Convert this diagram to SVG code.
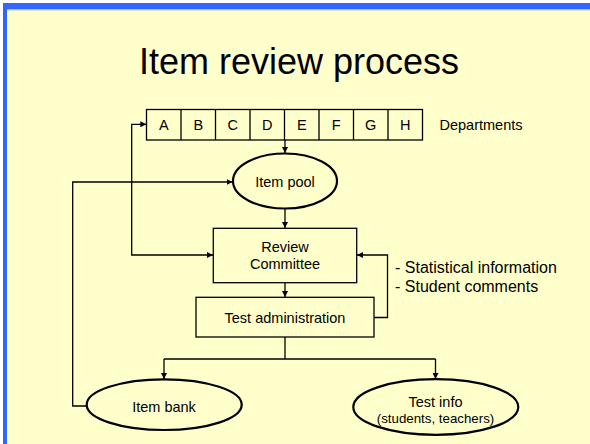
<svg xmlns="http://www.w3.org/2000/svg" width="590" height="444" viewBox="0 0 590 444">
<defs>
<style>
.t{font-family:"Liberation Sans",Arial,sans-serif;fill:#000;text-anchor:middle}
.box{fill:none;stroke:#000;stroke-width:1.3}
.ell{fill:none;stroke:#000;stroke-width:2.2}
.c{fill:none;stroke:#000;stroke-width:1.3}
</style>
<marker id="ah" markerUnits="userSpaceOnUse" markerWidth="7" markerHeight="6" refX="6" refY="3" orient="auto-start-reverse">
<path d="M0,0 L6,3 L0,6 z" fill="#000"/>
</marker>
</defs>
<rect x="0" y="0" width="590" height="444" fill="#fff"/>
<rect x="3" y="3" width="587" height="441" fill="#3366ff"/>
<rect x="7" y="9.5" width="583" height="434.5" fill="#ffffcc"/>
<line x1="7" y1="10" x2="590" y2="10" stroke="#b8c8f0" stroke-width="1"/>
<text class="t" x="299" y="74" font-size="36">Item review process</text>
<g id="departments">
<rect class="box" x="146.5" y="109.5" width="276" height="30.5"/>
<path class="c" d="M181,109.5V140M215.5,109.5V140M250,109.5V140M284.5,109.5V140M319,109.5V140M353.5,109.5V140M388,109.5V140"/>
<g class="t" font-size="14.5">
<text x="163.75" y="130">A</text><text x="198.25" y="130">B</text><text x="232.75" y="130">C</text><text x="267.25" y="130">D</text><text x="301.75" y="130">E</text><text x="336.25" y="130">F</text><text x="370.75" y="130">G</text><text x="405.25" y="130">H</text>
</g>
<text class="t" x="481" y="130" font-size="14.5">Departments</text>
</g>
<g id="item-pool">
<ellipse class="ell" cx="285" cy="181" rx="52" ry="27.5"/>
<text class="t" x="285" y="187" font-size="14.5">Item pool</text>
</g>
<g id="review-committee">
<rect class="box" x="213.3" y="228.3" width="143.4" height="54.4"/>
<text class="t" x="285" y="252" font-size="14.5">Review</text>
<text class="t" x="285" y="269" font-size="14.5">Committee</text>
</g>
<g id="test-administration">
<rect class="box" x="196" y="297.3" width="178" height="39.7"/>
<text class="t" x="285" y="322.5" font-size="14.5">Test administration</text>
</g>
<g id="item-bank">
<ellipse class="ell" cx="164.2" cy="404.7" rx="77.5" ry="25.3"/>
<text class="t" x="164" y="411.5" font-size="14.5">Item bank</text>
</g>
<g id="test-info">
<ellipse class="ell" cx="435.8" cy="407" rx="82.5" ry="27.8"/>
<text class="t" x="435.5" y="407" font-size="14.5">Test info</text>
<text class="t" x="435.5" y="423" font-size="13.3">(students, teachers)</text>
</g>
<g id="feedback-label">
<text x="395" y="273" font-family="&quot;Liberation Sans&quot;,Arial,sans-serif" font-size="16">- Statistical information</text>
<text x="395" y="292" font-family="&quot;Liberation Sans&quot;,Arial,sans-serif" font-size="16">- Student comments</text>
</g>
<g id="connectors">
<path class="c" d="M285,140V153" marker-end="url(#ah)"/>
<path class="c" d="M285,208.5V228" marker-end="url(#ah)"/>
<path class="c" d="M285,282.7V297" marker-end="url(#ah)"/>
<path class="c" d="M146.3,124.3H131.7V255H213" marker-start="url(#ah)" marker-end="url(#ah)"/>
<path class="c" d="M87,406H72.7V182H232.5" marker-end="url(#ah)"/>
<path class="c" d="M374,317.5H387.5V255H357" marker-end="url(#ah)"/>
<path class="c" d="M285,337V359M164,359H435.5"/>
<path class="c" d="M164,359V379" marker-end="url(#ah)"/>
<path class="c" d="M435.5,359V379" marker-end="url(#ah)"/>
</g>
</svg>
